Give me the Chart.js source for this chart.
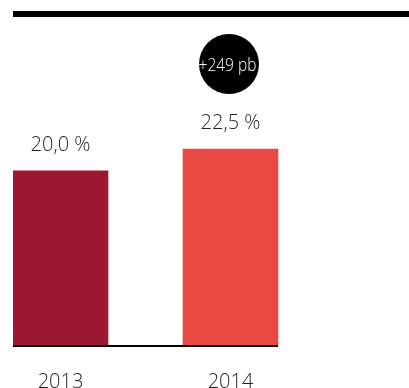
<!DOCTYPE html>
<html>
<head>
<meta charset="utf-8">
<script src="https://cdn.jsdelivr.net/npm/chart.js@4.4.1/dist/chart.umd.min.js"></script>
<style>
  html, body { margin: 0; padding: 0; background: #fff; overflow: hidden; width: 409px; height: 388px; }
  canvas { display: block; }
</style>
</head>
<body>
<canvas id="c" width="409" height="419"></canvas>
<script>
// ---- data ----
const years = [2013, 2014];
const values = [20.0, 22.5];
const barColors = ['#9C1730', '#E84A43'];
const deltaLabel = '+249 pb';

const FONT = '"Open Sans", Lato, "Noto Sans", sans-serif';
const TEXT = '#231F20';

function fmt(v) {
  return v.toFixed(1).replace('.', ',') + ' %';
}

const decor = {
  id: 'decor',
  afterDraw(chart) {
    const ctx = chart.ctx;
    const area = chart.chartArea;
    const meta = chart.getDatasetMeta(0);
    const bars = meta.data;
    ctx.save();
    // top rule
    ctx.fillStyle = '#000';
    ctx.fillRect(area.left, area.top - 3, chart.width - area.left, 6);
    // baseline under bars
    const last = bars[bars.length - 1];
    const first = bars[0];
    const fw = first.width;
    ctx.fillRect(first.x - fw / 2, area.bottom, (last.x + last.width / 2) - (first.x - fw / 2), 2);
    // value labels
    ctx.fillStyle = TEXT;
    ctx.font = '300 20px ' + FONT;
    ctx.textAlign = 'center';
    ctx.textBaseline = 'alphabetic';
    bars.forEach((b, i) => {
      ctx.fillText(fmt(values[i]), b.x, b.y - 20);
    });
    // delta bubble above last bar
    const cx = last.x - 1.5, cy = last.y - 85;
    ctx.beginPath();
    ctx.arc(cx, cy, 30, 0, Math.PI * 2);
    ctx.fillStyle = '#000';
    ctx.fill();
    ctx.fillStyle = '#fff';
    ctx.font = '300 18px ' + FONT;
    ctx.save();
    ctx.translate(cx - 1.5, cy + 7);
    ctx.scale(0.86, 1);
    ctx.fillText(deltaLabel, 0, 0);
    ctx.restore();
    ctx.restore();
  }
};

const pxPerYear = 170;
const leftPad = 13;
const areaWidth = 409 - leftPad;
const xMin = years[0] - 47.5 / pxPerYear;
const xMax = xMin + areaWidth / pxPerYear;

new Chart(document.getElementById('c'), {
  type: 'bar',
  data: {
    datasets: [{
      data: years.map((y, i) => ({ x: y, y: values[i] })),
      backgroundColor: barColors,
      borderWidth: 0,
      barThickness: 95
    }]
  },
  options: {
    responsive: false,
    animation: false,
    events: [],
    layout: { padding: { top: 14, left: leftPad, right: 0, bottom: 0 } },
    plugins: { legend: { display: false }, tooltip: { enabled: false } },
    scales: {
      x: {
        type: 'linear',
        offset: false,
        min: xMin,
        max: xMax,
        grid: { display: false, drawTicks: false },
        border: { display: false },
        afterBuildTicks: (s) => { s.ticks = years.map(v => ({ value: v })); },
        ticks: {
          autoSkip: false,
          maxRotation: 0,
          padding: 25,
          color: TEXT,
          font: { family: FONT, size: 20, weight: 300 },
          callback: (v) => String(v)
        }
      },
      y: {
        display: false,
        min: 0,
        max: 38
      }
    }
  },
  plugins: [decor]
});
</script>
</body>
</html>
